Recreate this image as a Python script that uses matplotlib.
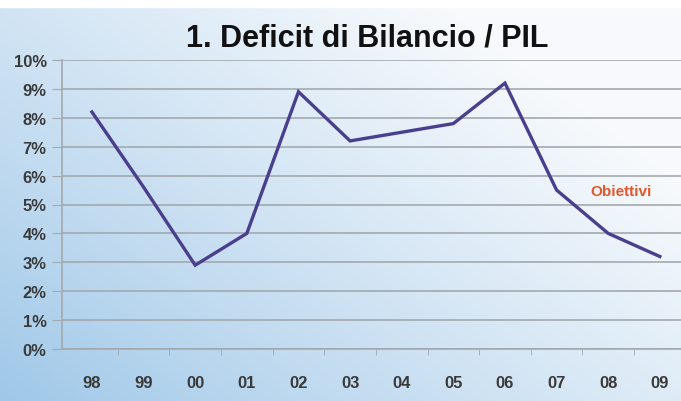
import matplotlib.pyplot as plt
import numpy as np

# data
anni = ['98', '99', '00', '01', '02', '03', '04', '05', '06', '07', '08', '09']
deficit = [8.2, 5.6, 2.9, 4.0, 8.9, 7.2, 7.5, 7.8, 9.2, 5.5, 4.0, 3.2]
y_ticks = [0, 1, 2, 3, 4, 5, 6, 7, 8, 9, 10]

plt.rcParams['font.family'] = ['Liberation Sans', 'DejaVu Sans']

fig = plt.figure(figsize=(6.81, 4.02), dpi=100)

# background: blue on the left / bottom fading to white towards top right
bg = fig.add_axes([0, 0, 1, 1], zorder=-10)
xx, yy = np.meshgrid(np.linspace(0, 1, 300), np.linspace(0, 1, 200))
t = np.clip(0.7 * xx + 0.55 * yy, 0, 1) ** 0.9
c0 = np.array([0.62, 0.78, 0.91])
c1 = np.array([0.97, 0.98, 0.99])
img = c0 + (c1 - c0) * t[..., None]
bg.imshow(img, origin='lower', aspect='auto', extent=[0, 1, 0, 1])
bg.axhspan(1 - 8 / 402, 1, color='white')
bg.set_xlim(0, 1)
bg.set_ylim(0, 1)
bg.axis('off')

grey = '#a3a9ae'
ax = fig.add_axes([62 / 681, 52 / 402, 619 / 681, 289 / 402])
ax.patch.set_alpha(0)
x = np.arange(len(anni))
ax.plot(x, deficit, color='#4a3f8c', lw=2.4, solid_joinstyle='miter', zorder=3)

ax.set_xlim(-0.58, 11.41)
ax.set_ylim(0, 10)
ax.set_yticks(y_ticks)
ax.set_yticklabels([f'{v}%' for v in y_ticks])
ax.grid(axis='y', color=grey, lw=1.2)
ax.set_axisbelow(True)
ax.set_xticks(x)
ax.set_xticklabels(anni)
ax.set_xticks(x[:-1] + 0.5, minor=True)
ax.tick_params(axis='x', which='major', length=0, pad=19)
ax.tick_params(axis='x', which='minor', length=4, color=grey, direction='out')
ax.tick_params(axis='y', length=7, color=grey, pad=4)
for lab in ax.get_xticklabels() + ax.get_yticklabels():
    lab.set_fontsize(12)
    lab.set_fontweight('bold')
    lab.set_color('#3a3a3a')
for s in ['top', 'right']:
    ax.spines[s].set_visible(False)
for s in ['left', 'bottom']:
    ax.spines[s].set_color(grey)
    ax.spines[s].set_linewidth(1.2)

ax.text(10.25, 5.45, 'Obiettivi', color='#e4572a', fontsize=11, fontweight='bold',
        ha='center', va='center')

fig.text(0.539, 0.905, '1. Deficit di Bilancio / PIL', ha='center', va='center',
         fontsize=22, fontweight='bold', color='#111111')

fig.savefig('out.png', dpi=100)
